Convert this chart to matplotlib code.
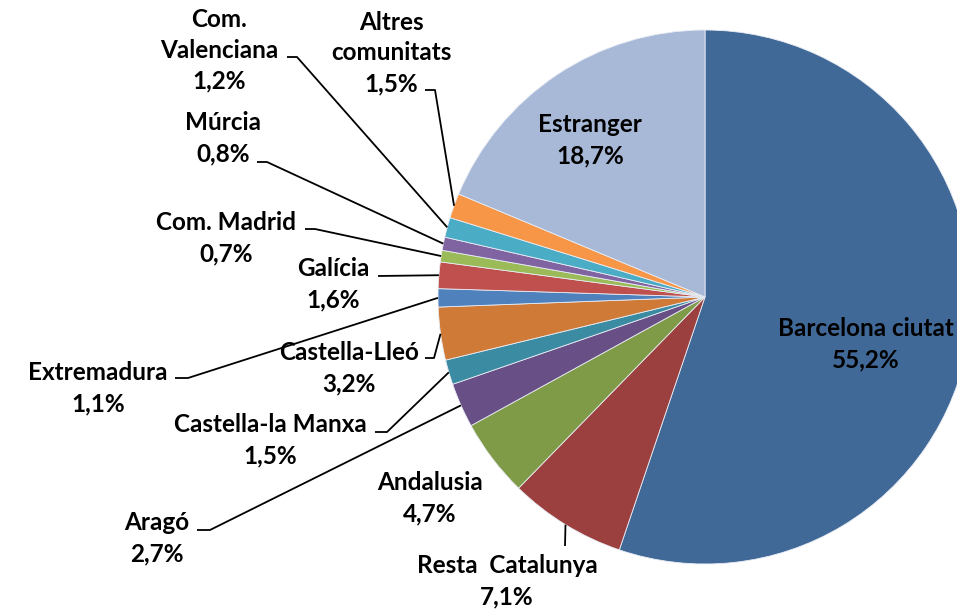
import numpy as np
import matplotlib.pyplot as plt

W, H = 957, 611

# origin of visitors (% of total)
regions = ["Barcelona ciutat", "Resta  Catalunya", "Andalusia", "Aragó",
           "Castella-la Manxa", "Castella-Lleó", "Extremadura", "Galícia",
           "Com. Madrid", "Múrcia", "Com. Valenciana", "Altres comunitats",
           "Estranger"]
shares = [55.2, 7.1, 4.7, 2.7, 1.5, 3.2, 1.1, 1.6, 0.7, 0.8, 1.2, 1.5, 18.7]
colors = ["#416998", "#9B403E", "#7F9B48", "#684F85", "#3B8CA3", "#CF7A37",
          "#4F81BD", "#C0504D", "#9BBB59", "#8064A2", "#4BACC6", "#F79646",
          "#A8B9D8"]

# how each name is broken over lines in its label
label_names = ["Barcelona ciutat", "Resta  Catalunya", "Andalusia", "Aragó",
               "Castella-la Manxa", "Castella-Lleó", "Extremadura", "Galícia",
               "Com. Madrid", "Múrcia", "Com.\nValenciana", "Altres\ncomunitats",
               "Estranger"]

# label centres in pixels (y downwards) and where the leader line leaves the text
label_pos = {
    "Barcelona ciutat": (866, 344),
    "Resta  Catalunya": (507, 581),
    "Andalusia": (430, 498),
    "Aragó": (157, 538),
    "Castella-la Manxa": (270, 440),
    "Castella-Lleó": (349, 368),
    "Extremadura": (98, 388),
    "Galícia": (333, 284),
    "Com. Madrid": (226, 238),
    "Múrcia": (223, 138),
    "Com. Valenciana": (219, 50),
    "Altres comunitats": (391, 53),
    "Estranger": (590, 140),
}
leader_start = {
    "Resta  Catalunya": [(565, 546)],
    "Aragó": [(197, 530), (210, 530)],
    "Castella-la Manxa": [(375, 432), (387, 432)],
    "Castella-Lleó": [(425, 358), (434, 358)],
    "Extremadura": [(175, 378), (188, 378)],
    "Galícia": [(378, 276)],
    "Com. Madrid": [(305, 229), (315, 229)],
    "Múrcia": [(257, 162), (267, 162)],
    "Com. Valenciana": [(287, 57), (297, 57)],
    "Altres comunitats": [(425, 90), (435, 90)],
}

cx, cy, r = 705, H - 297, 267

plt.rcParams["font.family"] = ["Lato", "DejaVu Sans"]
fig = plt.figure(figsize=(W / 100, H / 100), dpi=100)
ax = fig.add_axes([0, 0, 1, 1])

wedges, _ = ax.pie(shares, colors=colors, startangle=90, counterclock=False,
                   center=(cx, cy), radius=r,
                   wedgeprops=dict(edgecolor="#E8ECF4", linewidth=0.6))
ax.set_xlim(0, W)
ax.set_ylim(0, H)
ax.set_aspect("equal")
ax.axis("off")

for name, text, val, w in zip(regions, label_names, shares, wedges):
    lx, ly = label_pos[name]
    pct = f"{val:.1f}".replace(".", ",") + "%"
    ax.text(lx, H - ly, f"{text}\n{pct}",
            ha="center", va="center", fontsize=17.5, fontweight="bold",
            color="black", linespacing=1.42)
    if name in leader_start:
        mid = np.deg2rad((w.theta1 + w.theta2) / 2)
        pts = [(x, H - y) for x, y in leader_start[name]]
        pts.append((cx + r * np.cos(mid), cy + r * np.sin(mid)))
        xs, ys = zip(*pts)
        ax.plot(xs, ys, color="black", lw=1.3, solid_capstyle="butt")

fig.savefig("out.png", dpi=100)
